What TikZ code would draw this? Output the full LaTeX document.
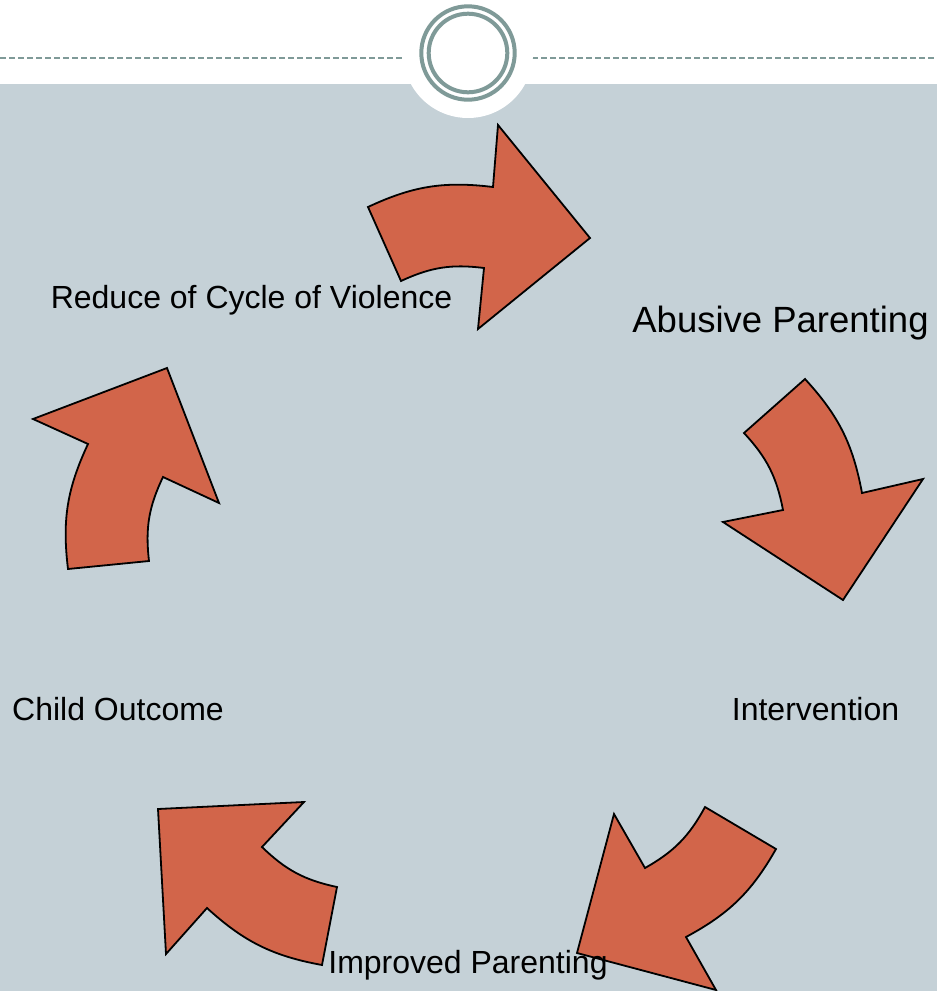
\documentclass[tikz,border=0pt]{standalone}
\usepackage{fontspec}
\setmainfont{Liberation Sans}
\usetikzlibrary{positioning,calc}
\definecolor{slidebg}{HTML}{C5D1D7}
\definecolor{ringgray}{HTML}{7F9A98}
\definecolor{arrowred}{HTML}{D2654A}
\begin{document}
\begin{tikzpicture}[x=1pt,y=-1pt,
cyclearrow/.style={
  draw=black,
  fill=arrowred,
  line width=1.8pt,
  line join=miter},
steplabel/.style={
  anchor=base,
  inner sep=0pt,
  font=\fontsize{32}{38}\selectfont},
dashrule/.style={
  ringgray,
  line width=2pt,
  dash pattern=on 6pt off 3pt}
]
\useasboundingbox (0,0) rectangle (937,991);
\fill[white] (0,0) rectangle (937,991);
\fill[slidebg] (0,84) rectangle (937,991);
\draw[dashrule] (0,58) -- (403,58);
\draw[dashrule] (532,58) -- (937,58);
\coordinate (R) at (468,53);
\fill[white] (R) circle [radius=65];
\draw[ringgray, line width=4pt] (R) circle [radius=46.7];
\draw[ringgray, line width=4pt] (R) circle [radius=39.3];
\draw[cyclearrow] (368,207) to[bend left=16] (493,187) -- (498,125) -- (590,238)
  -- (478,329) -- (484,268) to[bend right=16] (401,281) -- cycle;
\draw[cyclearrow] (805,379) to[bend left=16] (862,493) -- (923,479) -- (843,600)
  -- (723,522) -- (783,510) to[bend right=16] (744,433) -- cycle;
\draw[cyclearrow] (776,849) to[bend left=16] (686,937) -- (716,990) -- (577,953)
  -- (614,814) -- (645,868) to[bend right=16] (705,807) -- cycle;
\draw[cyclearrow] (322,965) to[bend left=16] (207,908) -- (166,954) -- (158,809)
  -- (304,802) -- (262,847) to[bend right=16] (337,887) -- cycle;
\draw[cyclearrow] (68,569) to[bend left=16] (88,444) -- (33,419) -- (167,368)
  -- (219,503) -- (163,477) to[bend right=16] (149,561) -- cycle;
\node[steplabel, font=\fontsize{36.5}{44}\selectfont] (abuse) at (780.5,332) {Abusive Parenting};
\node[steplabel] (interv) at (815.5,720) {Intervention};
\node[steplabel] (improved) at (468,973) {Improved Parenting};
\node[steplabel] (outcome) at (118,720) {Child Outcome};
\node[steplabel] (reduce) at (251.5,308) {Reduce of Cycle of Violence};
\end{tikzpicture}
\end{document}
